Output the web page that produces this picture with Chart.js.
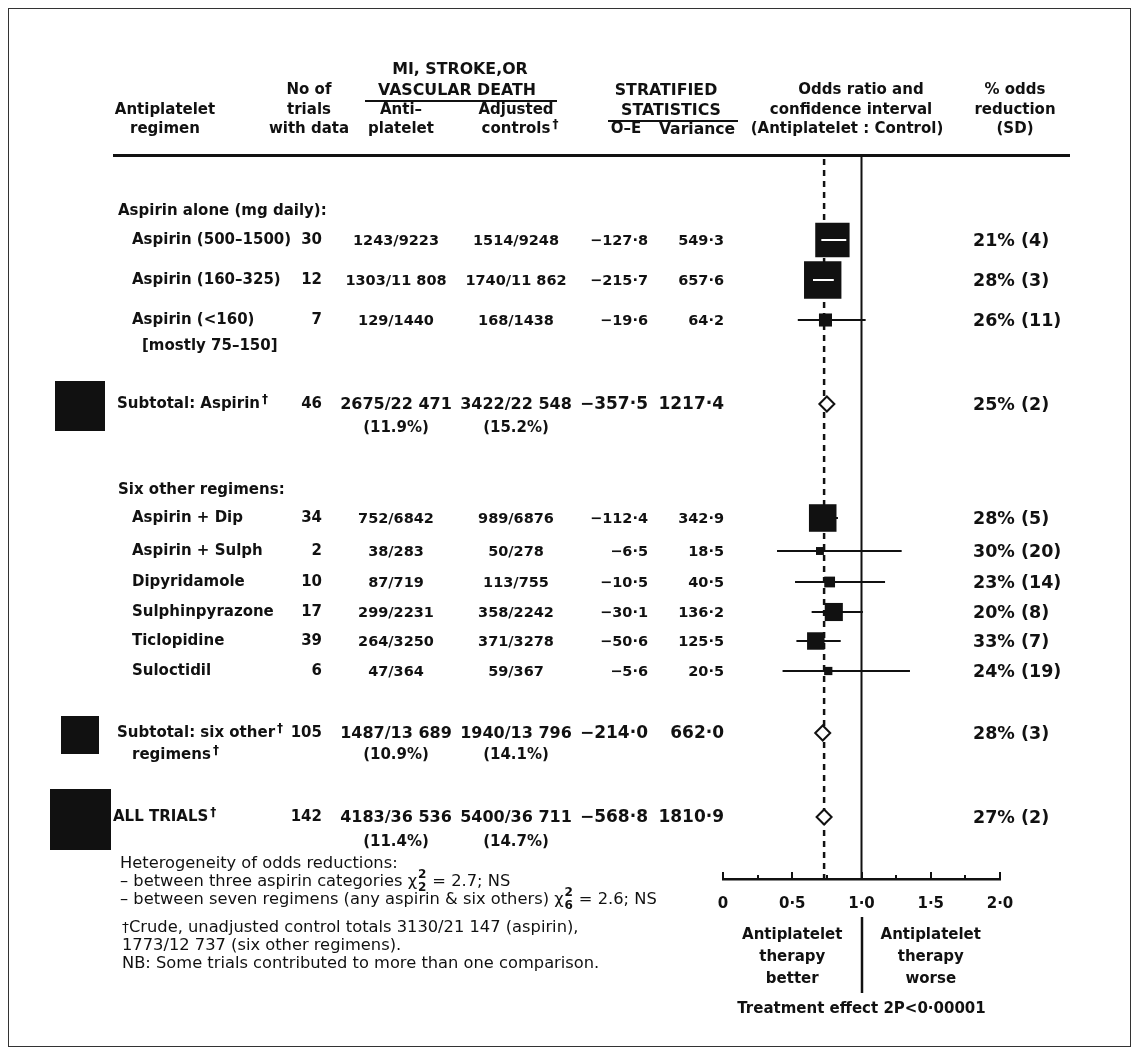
<!DOCTYPE html>
<html lang="en">
<head>
<meta charset="utf-8">
<title>Antiplatelet regimens: MI, stroke or vascular death</title>
<script src="https://cdn.jsdelivr.net/npm/chart.js@4.4.1/dist/chart.umd.min.js"></script>
<style>
  html, body { margin: 0; padding: 0; background: #fff; }
  #page { position: relative; width: 1139px; height: 1056px; overflow: hidden; background: #fff;
          color: #111; font-family: "DejaVu Sans", sans-serif; }
  #plot { position: absolute; left: 0; top: 0; }
  .frame { position: absolute; left: 8px; top: 8px; width: 1123px; height: 1039px;
           border: 1px solid #333; box-sizing: border-box; }
  .rule { position: absolute; background: #111; }
  .txt { position: absolute; white-space: nowrap; line-height: 1.164; }
  .dg { position: relative; top: -0.42em; font-size: 0.8em; margin-left: 2px; }
  .stack { position: relative; display: inline-block; width: 0.62em; height: 0.7em; }
  .stack span { position: absolute; left: 1px; font-size: 0.74em; line-height: 1; font-weight: bold; }
  .stack .sup { top: -0.55em; }
  .stack .sub { top: 0.55em; }
</style>
</head>
<body>
<div id="page">
  <div class="frame"></div>
  <canvas id="plot" width="1139" height="1056"></canvas>
</div>
<script>
// ---------- data ----------
const regimens = ['Aspirin (500–1500)', 'Aspirin (160–325)', 'Aspirin (<160)', 'Subtotal: Aspirin',
  'Aspirin + Dip', 'Aspirin + Sulph', 'Dipyridamole', 'Sulphinpyrazone', 'Ticlopidine', 'Suloctidil',
  'Subtotal: six other', 'ALL TRIALS'];
const isSubtotal = [false, false, false, true, false, false, false, false, false, false, true, true];
const trialCounts = [30, 12, 7, 46, 34, 2, 10, 17, 39, 6, 105, 142];
const antiplateletEvents = ['1243/9223', '1303/11 808', '129/1440', '2675/22 471', '752/6842', '38/283',
  '87/719', '299/2231', '264/3250', '47/364', '1487/13 689', '4183/36 536'];
const antiplateletRate = [null, null, null, '11.9%', null, null, null, null, null, null, '10.9%', '11.4%'];
const controlEvents = ['1514/9248', '1740/11 862', '168/1438', '3422/22 548', '989/6876', '50/278',
  '113/755', '358/2242', '371/3278', '59/367', '1940/13 796', '5400/36 711'];
const controlRate = [null, null, null, '15.2%', null, null, null, null, null, null, '14.1%', '14.7%'];
const observedMinusExpected = [-127.8, -215.7, -19.6, -357.5, -112.4, -6.5, -10.5, -30.1, -50.6, -5.6, -214.0, -568.8];
const variance = [549.3, 657.6, 64.2, 1217.4, 342.9, 18.5, 40.5, 136.2, 125.5, 20.5, 662.0, 1810.9];
const oddsReduction = [21, 28, 26, 25, 28, 30, 23, 20, 33, 24, 28, 27];   // %
const reductionSD = [4, 3, 11, 2, 5, 20, 14, 8, 7, 19, 3, 2];
const ciLower = [0.71, 0.65, 0.54, null, 0.63, 0.39, 0.52, 0.64, 0.53, 0.43, null, null];
const ciUpper = [0.89, 0.80, 1.03, null, 0.83, 1.29, 1.17, 1.01, 0.85, 1.35, null, null];
const xTicks = [0, 0.5, 1.0, 1.5, 2.0];

// ---------- layout ----------
const PAGE_W = 1139, PAGE_H = 1056;
const PLOT_LEFT = 723, PLOT_RIGHT = 1000, PLOT_TOP = 155, PLOT_BOTTOM = 879, AXIS_BAND = 40;
const X_MIN = 0, X_MAX = 2;
const rowY = [240, 280, 320, 404, 518, 551, 582, 612, 641, 671, 733, 817];
const labelX = [132, 132, 132, 117, 132, 132, 132, 132, 132, 132, 117, 113];
const secondLine = { 2: { text: '[mostly 75–150]', x: 142, gap: 26 },
                     3: { gap: 24 }, 10: { text: 'regimens', x: 132, gap: 22, dagger: true }, 11: { gap: 25 } };
const SIDE_BOX_X = 80;
const COL = { trials: 322, anti: 396, ctrl: 516, oe: 648, vr: 724, pct: 973 };

const ALL = regimens.length - 1;
const oddsRatio = oddsReduction.map(r => 1 - r / 100);
const pxPerUnit = (PLOT_RIGHT - PLOT_LEFT) / (X_MAX - X_MIN);
const boxSide = v => 1.38 * Math.sqrt(v) + 2;          // box area follows the information (variance)
const num = v => (v < 0 ? '−' : '') + Math.abs(v).toFixed(1).replace('.', '·');
const tickText = v => v === 0 ? '0' : v.toFixed(1).replace('.', '·');

// ---------- datasets ----------
const datasets = [];
// line of no effect and the overall odds ratio
datasets.push({ data: [{ x: 1, y: PLOT_TOP }, { x: 1, y: PLOT_BOTTOM }], showLine: true,
  borderColor: '#111', borderWidth: 2, pointRadius: 0, order: 20 });
datasets.push({ data: [{ x: oddsRatio[ALL], y: PLOT_TOP + 4 }, { x: oddsRatio[ALL], y: PLOT_BOTTOM }], showLine: true,
  borderColor: '#111', borderWidth: 2.5, borderDash: [6, 5], pointRadius: 0, order: 19 });
// 99% confidence intervals (white where the interval lies inside its box)
regimens.forEach((_, i) => {
  if (ciLower[i] == null) return;
  const half = boxSide(variance[i]) / 2 / pxPerUnit;
  const inside = ciLower[i] > oddsRatio[i] - half && ciUpper[i] < oddsRatio[i] + half;
  datasets.push({ data: [{ x: ciLower[i], y: rowY[i] }, { x: ciUpper[i], y: rowY[i] }], showLine: true,
    borderColor: inside ? '#fff' : '#111', borderWidth: 2, pointRadius: 0, order: inside ? 2 : 10 });
});
// boxes for individual regimens
const trialRows = regimens.map((_, i) => i).filter(i => !isSubtotal[i]);
datasets.push({ data: trialRows.map(i => ({ x: oddsRatio[i], y: rowY[i] })), pointStyle: 'rect',
  pointRadius: trialRows.map(i => boxSide(variance[i]) / Math.SQRT2), backgroundColor: '#111',
  borderWidth: 0, order: 5 });
// open diamonds for subtotals and the overall result
const subRows = regimens.map((_, i) => i).filter(i => isSubtotal[i]);
datasets.push({ data: subRows.map(i => ({ x: oddsRatio[i], y: rowY[i] })), pointStyle: 'rectRot',
  pointRadius: 7.5, backgroundColor: '#fff', borderColor: '#111', borderWidth: 2, order: 1 });

// upward tick marks on the odds-ratio axis and the divider under 1·0
const axisTicks = {
  id: 'axisTicks',
  afterDraw(chart) {
    const s = chart.scales.x, ctx = chart.ctx, y = s.top;
    ctx.save();
    ctx.strokeStyle = '#111';
    ctx.lineWidth = 2;
    const steps = Math.round((X_MAX - X_MIN) / 0.25);
    for (let k = 0; k <= steps; k++) {
      const v = X_MIN + k * 0.25;
      const x = Math.round(s.getPixelForValue(v));
      const len = k % 2 === 0 ? 7 : 4;
      ctx.beginPath(); ctx.moveTo(x, y); ctx.lineTo(x, y - len); ctx.stroke();
    }
    const x1 = Math.round(s.getPixelForValue(1));
    ctx.lineWidth = 2.5;
    ctx.beginPath(); ctx.moveTo(x1, 917); ctx.lineTo(x1, 993); ctx.stroke();
    ctx.restore();
  }
};
// solid squares beside the subtotal labels, sized like the boxes
const sideSquares = {
  id: 'sideSquares',
  afterDatasetsDraw(chart) {
    const ctx = chart.ctx, ys = chart.scales.y;
    ctx.save();
    ctx.fillStyle = '#111';
    subRows.forEach(i => {
      const s = boxSide(variance[i]);
      const y = ys.getPixelForValue(rowY[i]) + 2;
      ctx.fillRect(Math.round(SIDE_BOX_X - s / 2), Math.round(y - s / 2), Math.round(s), Math.round(s));
    });
    ctx.restore();
  }
};

const chart = new Chart(document.getElementById('plot'), {
  type: 'scatter',
  data: { datasets },
  options: {
    responsive: false, animation: false, events: [],
    layout: { padding: { left: PLOT_LEFT, right: PAGE_W - PLOT_RIGHT, top: PLOT_TOP,
                         bottom: PAGE_H - PLOT_BOTTOM - AXIS_BAND } },
    plugins: { legend: { display: false }, tooltip: { enabled: false } },
    scales: {
      x: {
        type: 'linear', min: X_MIN, max: X_MAX,
        afterBuildTicks: s => { s.ticks = xTicks.map(v => ({ value: v })); },
        afterFit: s => { s.height = AXIS_BAND; },
        ticks: { autoSkip: false, maxRotation: 0, padding: 16, color: '#111',
                 font: { family: 'DejaVu Sans', weight: 'bold', size: 15 }, callback: v => tickText(v) },
        grid: { display: false, drawTicks: false },
        border: { display: true, color: '#111', width: 2.5 }
      },
      y: { type: 'linear', display: false, reverse: true, min: PLOT_TOP, max: PLOT_BOTTOM }
    }
  },
  plugins: [axisTicks, sideSquares]
});

// ---------- table text ----------
const page = document.getElementById('page');
function put(content, x, y, o = {}) {
  const d = document.createElement('div');
  d.className = 'txt';
  if (o.html) d.innerHTML = content; else d.textContent = content;
  d.style.left = x + 'px';
  d.style.top = y + 'px';
  d.style.fontSize = (o.size || 15) + 'px';
  d.style.fontWeight = o.bold === false ? 'normal' : 'bold';
  const ax = o.align === 'center' ? '-50%' : o.align === 'right' ? '-100%' : '0';
  d.style.transform = `translate(${ax}, -50%)`;
  page.appendChild(d);
  return d;
}
function rule(x, y, w, h) {
  const d = document.createElement('div');
  d.className = 'rule';
  Object.assign(d.style, { left: x + 'px', top: y + 'px', width: w + 'px', height: h + 'px' });
  page.appendChild(d);
}
const DAG = '<span class="dg">†</span>';
const C = { align: 'center' };
const CAPS = { align: 'center', size: 15.8 };

// column headings
put('MI, STROKE,OR', 460, 69, CAPS);
put('No of', 309, 90, C);
put('VASCULAR DEATH', 457, 90, CAPS);
put('STRATIFIED', 666, 90, CAPS);
put('Odds ratio and', 861, 90, C);
put('% odds', 1015, 90, C);
put('Antiplatelet', 165, 110, C);
put('trials', 309, 110, C);
put('Anti–', 401, 110, C);
put('Adjusted', 516, 110, C);
put('STATISTICS', 671, 110, CAPS);
put('confidence interval', 851, 110, C);
put('reduction', 1015, 110, C);
put('regimen', 165, 129, C);
put('with data', 309, 129, C);
put('platelet', 401, 129, C);
put('controls' + DAG, 520, 129, { align: 'center', html: true });
put('O–E', 626, 129, C);
put('Variance', 697, 129, { align: 'center', size: 15.6 });
put('(Antiplatelet : Control)', 847, 129, C);
put('(SD)', 1015, 129, C);
rule(365, 100, 192, 2);
rule(608, 120, 130, 2);
rule(113, 154, 957, 3);

// group headings
put('Aspirin alone (mg daily):', 118, 211);
put('Six other regimens:', 118, 490);

// rows, placed on the chart's own vertical scale
const ys = chart.scales.y;
regimens.forEach((name, i) => {
  const y = ys.getPixelForValue(rowY[i]);
  const sub = isSubtotal[i];
  put(name + (sub ? DAG : ''), labelX[i], y, { html: sub });
  put(String(trialCounts[i]), COL.trials, y, { align: 'right' });
  put(antiplateletEvents[i], COL.anti, y, { align: 'center', size: sub ? 16 : 14.5 });
  put(controlEvents[i], COL.ctrl, y, { align: 'center', size: sub ? 16 : 14.5 });
  put(num(observedMinusExpected[i]), COL.oe, y, { align: 'right', size: sub ? 17 : 14.5 });
  put(num(variance[i]), COL.vr, y, { align: 'right', size: sub ? 17 : 14.5 });
  put(`${oddsReduction[i]}% (${reductionSD[i]})`, COL.pct, y, { size: 17.5 });
  const extra = secondLine[i];
  if (extra) {
    const y2 = y + extra.gap;
    if (extra.text) put(extra.text + (extra.dagger ? DAG : ''), extra.x, y2, { html: true });
    if (antiplateletRate[i]) {
      put(`(${antiplateletRate[i]})`, COL.anti, y2, C);
      put(`(${controlRate[i]})`, COL.ctrl, y2, C);
    }
  }
});

// axis captions, centred on the chart's own x scale
const xs = chart.scales.x;
const better = xs.getPixelForValue(0.5), worse = xs.getPixelForValue(1.5), one = xs.getPixelForValue(1);
[['Antiplatelet', 935], ['therapy', 957], ['better', 979]].forEach(([t, y]) => put(t, better, y, C));
[['Antiplatelet', 935], ['therapy', 957], ['worse', 979]].forEach(([t, y]) => put(t, worse, y, C));
put('Treatment effect 2P<0·00001', one, 1009, C);

// footnotes
const F = { bold: false, size: 16.3, html: true };
const chi = (df) => `χ<span class="stack"><span class="sup">2</span><span class="sub">${df}</span></span>`;
put('Heterogeneity of odds reductions:', 120, 863, F);
put(`– between three aspirin categories ${chi(2)} = 2.7; NS`, 120, 881, F);
put(`– between seven regimens (any aspirin &amp; six others) ${chi(6)} = 2.6; NS`, 120, 899, F);
put('<span style="font-size:0.85em">†</span>Crude, unadjusted control totals 3130/21 147 (aspirin),', 122, 927, F);
put('1773/12 737 (six other regimens).', 122, 945, F);
put('NB: Some trials contributed to more than one comparison.', 122, 963, F);
</script>
</body>
</html>
